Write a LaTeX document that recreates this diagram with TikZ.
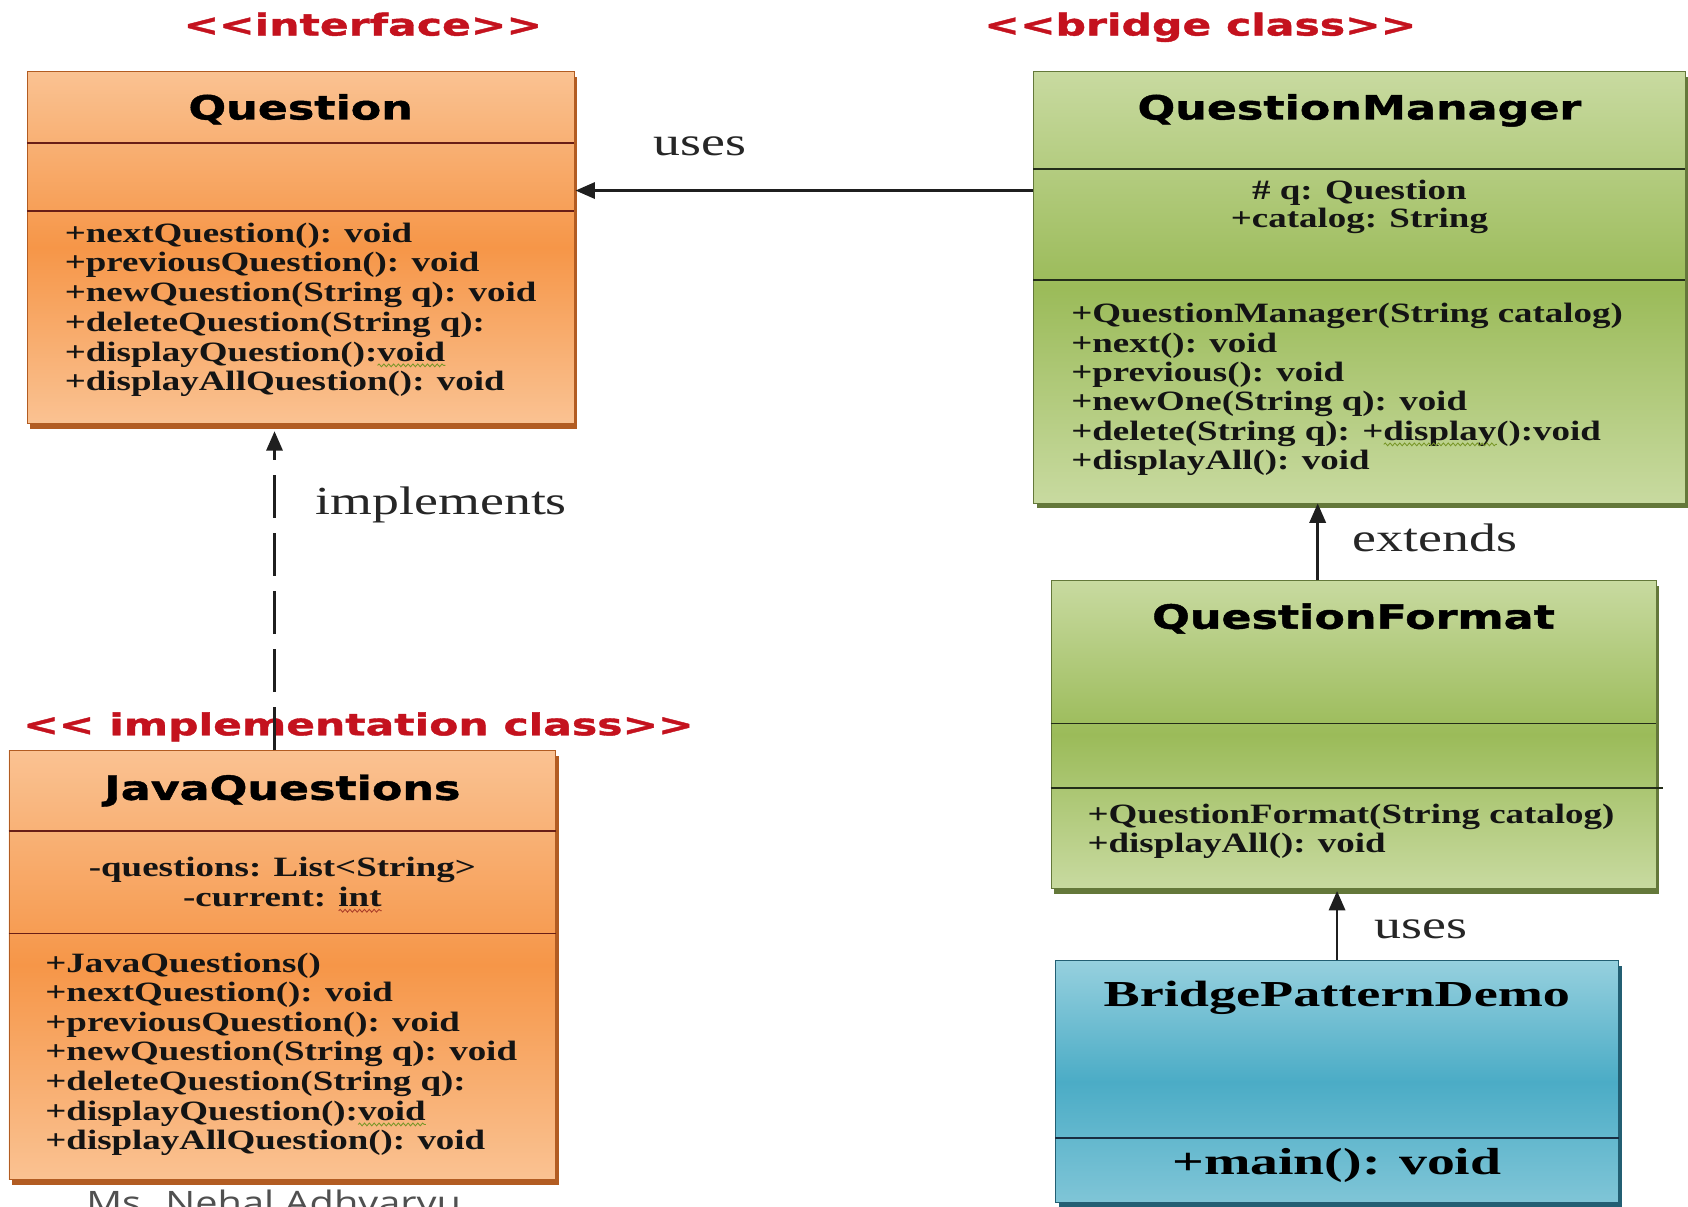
\documentclass[tikz,border=0pt]{standalone}
\usepackage{fontspec}
\usetikzlibrary{arrows.meta,shadows,calc,decorations.pathmorphing}
\newfontfamily\titlefam[FakeStretch=1.33,FakeBold=1.3]{DejaVu Sans}
\newfontfamily\stereofam[FakeStretch=1.41,FakeBold=1.3]{DejaVu Sans}
\newfontfamily\serifA[FakeStretch=1.32]{Liberation Serif}
\newfontfamily\serifB[FakeStretch=1.48]{Liberation Serif}
\newfontfamily\labelfam[FakeStretch=1.35]{Liberation Serif}
\newfontfamily\signfam[FakeStretch=1.23]{Open Sans}
\newcommand\methfont{\serifA\bfseries\fontsize{26}{27.6}\selectfont}
\newcommand\ttlfont{\titlefam\bfseries\fontsize{31}{36}\selectfont}
\newcommand\stereofont{\stereofam\bfseries\fontsize{28}{32}\selectfont}
\newcommand\lblfont{\labelfam\fontsize{37}{40}\selectfont}
\newcommand\bpdfont{\serifB\bfseries\fontsize{34}{38}\selectfont}
\newcommand\mainopfont{\serifB\bfseries\fontsize{35}{38}\selectfont}
\newcommand\signfont{\signfam\fontsize{30}{34}\selectfont}
\definecolor{orL}{RGB}{250,194,146}
\definecolor{orM}{RGB}{246,150,72}
\definecolor{orD}{RGB}{178,92,34}
\definecolor{orLine}{RGB}{105,30,22}
\definecolor{grL}{RGB}{200,218,160}
\definecolor{grM}{RGB}{155,187,89}
\definecolor{grD}{RGB}{100,120,58}
\definecolor{grLine}{RGB}{35,45,25}
\definecolor{blL}{RGB}{150,208,222}
\definecolor{blM}{RGB}{75,172,198}
\definecolor{blD}{RGB}{35,95,115}
\definecolor{blLine}{RGB}{25,45,65}
\definecolor{stereored}{RGB}{196,18,30}
\definecolor{wavegreen}{RGB}{120,150,40}
\definecolor{wavered}{RGB}{170,60,40}
\definecolor{signgray}{RGB}{80,80,80}
\begin{document}
\begin{tikzpicture}[x=1pt,y=-1pt,
  boxbase/.style={rectangle, inner sep=0pt, anchor=north west, line width=0.6pt},
  obox/.style={boxbase, draw=orD, top color=orL, bottom color=orL, middle color=orM,
     drop shadow={shadow xshift=3pt, shadow yshift=-5pt, fill=orD, opacity=1}},
  gbox/.style={boxbase, draw=grD, top color=grL, bottom color=grL, middle color=grM,
     drop shadow={shadow xshift=3pt, shadow yshift=-5pt, fill=grD, opacity=1}},
  bbox/.style={boxbase, draw=blD, top color=blL, bottom color=blL!70!blM, middle color=blM,
     drop shadow={shadow xshift=3pt, shadow yshift=-5pt, fill=blD, opacity=1}},
  odiv/.style={draw=orLine, line width=1.6pt},
  gdiv/.style={draw=grLine, line width=1.5pt},
  bdiv/.style={draw=blLine, line width=1.5pt},
  meth/.style={anchor=base west, inner sep=0pt, font=\methfont, text=black!92},
  attr/.style={anchor=base, inner sep=0pt, font=\methfont, text=black!92},
  ttl/.style={anchor=base, inner sep=0pt, font=\ttlfont, text=black},
  stereo/.style={anchor=base, inner sep=0pt, font=\stereofont, text=stereored},
  lbl/.style={anchor=base, inner sep=0pt, font=\lblfont, text=black!85},
  arr/.style={draw=black!88, line width=2.5pt, -{Triangle[length=18pt,width=15pt]}},
  squig/.style={line width=0.8pt, decorate, decoration={snake, amplitude=1.3pt, segment length=4.5pt}},
]
\path[use as bounding box] (0,0) rectangle (1568,1121);
\clip (0,0) rectangle (1568,1121);
\fill[white] (0,0) rectangle (1568,1121);

% stereotype labels
\node[stereo] (stIf) at (337,33) {<{}<interface>{}>};
\node[stereo] (stBr) at (1115,33) {<{}<bridge class>{}>};
\node[stereo] (stIm) at (333,683) {<{}< implementation class>{}>};

% ---------- Question ----------
\node[obox, minimum width=508pt, minimum height=327pt] (q) at (25,66) {};
\draw[odiv] ($(q.north west)+(0,67)$) -- ($(q.north east)+(0,67)$);
\draw[odiv] ($(q.north west)+(0,130)$) -- ($(q.north east)+(0,130)$);
\node[ttl] (qT) at ($(q.north)+(0,45)$) {Question};
\foreach \txt [count=\i] in {+nextQuestion(): void,+previousQuestion(): void,+newQuestion(String q): void,+deleteQuestion(String q):,+displayQuestion():void,+displayAllQuestion(): void}
  \node[meth] (qM\i) at ($(q.north west)+(35,{159+27.6*(\i-1)})$) {\txt};
\draw[squig, wavegreen] ($(qM5.base east)+(-63,4)$) -- ($(qM5.base east)+(0,4)$);

% ---------- QuestionManager ----------
\node[gbox, minimum width=605pt, minimum height=401pt] (qm) at (960,66) {};
\draw[gdiv] ($(qm.north west)+(0,91)$) -- ($(qm.north east)+(0,91)$);
\draw[gdiv] ($(qm.north west)+(0,194)$) -- ($(qm.north east)+(0,194)$);
\node[ttl] (qmT) at ($(qm.north)+(0,45)$) {QuestionManager};
\node[attr] (qmA1) at ($(qm.north)+(0,119)$) {\# q: Question};
\node[attr] (qmA2) at ($(qm.north)+(0,145)$) {+catalog: String};
\foreach \txt [count=\i] in {+QuestionManager(String catalog),+next(): void,+previous(): void,+newOne(String q): void,+delete(String q): +display():void,+displayAll(): void}
  \node[meth] (qmM\i) at ($(qm.north west)+(35,{234+27.2*(\i-1)})$) {\txt};
\draw[squig, wavegreen] ($(qmM5.base east)+(-202,4)$) -- ($(qmM5.base east)+(-97,4)$);

% ---------- QuestionFormat ----------
\node[gbox, minimum width=562pt, minimum height=286pt] (qf) at (976,539) {};
\draw[gdiv] ($(qf.north west)+(0,133)$) -- ($(qf.north east)+(0,133)$);
\draw[gdiv] ($(qf.north west)+(0,193)$) -- ($(qf.north east)+(6,193)$);
\node[ttl] (qfT) at ($(qf.north)+(0,45)$) {QuestionFormat};
\foreach \txt [count=\i] in {+QuestionFormat(String catalog),+displayAll(): void}
  \node[meth] (qfM\i) at ($(qf.north west)+(34,{226+27*(\i-1)})$) {\txt};

% ---------- JavaQuestions ----------
\node[obox, minimum width=508pt, minimum height=398pt] (jq) at (8,697) {};
\draw[odiv] ($(jq.north west)+(0,75)$) -- ($(jq.north east)+(0,75)$);
\draw[odiv] ($(jq.north west)+(0,170)$) -- ($(jq.north east)+(0,170)$);
\node[ttl] (jqT) at ($(jq.north)+(0,46)$) {JavaQuestions};
\node[attr] (jqA1) at ($(jq.north)+(0,117)$) {-questions: List<String>};
\node[attr] (jqA2) at ($(jq.north)+(0,145)$) {-current: int};
\draw[squig, wavered] ($(jqA2.base east)+(-40,4)$) -- ($(jqA2.base east)+(0,4)$);
\foreach \txt [count=\i] in {+JavaQuestions(),+nextQuestion(): void,+previousQuestion(): void,+newQuestion(String q): void,+deleteQuestion(String q):,+displayQuestion():void,+displayAllQuestion(): void}
  \node[meth] (jqM\i) at ($(jq.north west)+(34,{206+27.5*(\i-1)})$) {\txt};
\draw[squig, wavegreen] ($(jqM6.base east)+(-63,4)$) -- ($(jqM6.base east)+(0,4)$);

% ---------- BridgePatternDemo ----------
\node[bbox, minimum width=523pt, minimum height=225pt] (bp) at (980,892) {};
\draw[bdiv] ($(bp.north west)+(0,165)$) -- ($(bp.north east)+(0,165)$);
\node[anchor=base, inner sep=0pt, font=\bpdfont] (bpT) at ($(bp.north)+(0,43)$) {BridgePatternDemo};
\node[anchor=base, inner sep=0pt, font=\mainopfont] (bpM) at ($(bp.north)+(0,199)$) {+main(): void};

% ---------- connectors ----------
\coordinate (usesY) at (0,177);
\coordinate (implX) at (255,0);
\coordinate (extX) at (1224,0);
\coordinate (uses2X) at (1242,0);
\draw[arr] (qm.west |- usesY) -- ($(q.east |- usesY)+(1,0)$);
\draw[arr, dash pattern=on 40pt off 14pt] (jq.north -| implX) -- ($(q.south -| implX)+(0,7)$);
\draw[arr] (qf.north -| extX) -- (qm.south -| extX);
\draw[arr] (bp.north -| uses2X) -- ($(qf.south -| uses2X)+(0,2)$);

% ---------- connector labels ----------
\node[lbl] (lUses1) at (650,144) {uses};
\node[lbl] (lImpl) at (410,478) {implements};
\node[lbl] (lExt) at (1333,512) {extends};
\node[lbl] (lUses2) at (1320,872) {uses};

% footer (cut off at the lower edge, as in the reference)
\node[anchor=base west, inner sep=0pt, font=\signfont, text=signgray] (sign) at (80,1128) {Ms. Nehal Adhvaryu};
\end{tikzpicture}
\end{document}
